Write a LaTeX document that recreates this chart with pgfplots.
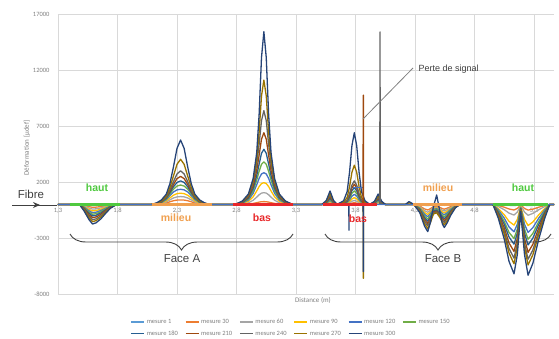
\documentclass[border=0pt]{standalone}
\usepackage{pgfplots}
\pgfplotsset{compat=1.18}
\usepackage{pgfplotstable}
\usepackage{fontspec}
\setmainfont{Liberation Sans}
\newfontfamily\calfont{Carlito}
\usetikzlibrary{arrows.meta,decorations.pathreplacing}
\definecolor{c1}{HTML}{5B9BD5}
\definecolor{c30}{HTML}{ED7D31}
\definecolor{c60}{HTML}{A5A5A5}
\definecolor{c90}{HTML}{FFC000}
\definecolor{c120}{HTML}{4472C4}
\definecolor{c150}{HTML}{70AD47}
\definecolor{c180}{HTML}{255E91}
\definecolor{c210}{HTML}{9E480E}
\definecolor{c240}{HTML}{636363}
\definecolor{c270}{HTML}{997300}
\definecolor{c300}{HTML}{264478}
\definecolor{gridc}{HTML}{D9D9D9}
\definecolor{txtg}{HTML}{7F7F7F}
\definecolor{annot}{HTML}{404040}
\definecolor{hautg}{HTML}{4FC93F}
\definecolor{milo}{HTML}{F0A050}
\definecolor{basr}{HTML}{E8282A}
\definecolor{baseb}{HTML}{4472C4}
\newcommand{\lt}[1]{\textcolor{txtg}{#1}}

\pgfplotstableread{
x m1 m30 m60 m90 m120 m150 m180 m210 m240 m270 m300
1.30 0 0 0 0 0 0 0 0 0 0 0
1.48 0 0 0 0 0 0 0 0 0 0 0
1.52 -30 -90 -140 -200 -250 -300 -350 -400 -470 -520 -600
1.56 -70 -200 -320 -450 -570 -680 -790 -920 -1050 -1190 -1350
1.59 -90 -260 -420 -580 -740 -880 -1030 -1190 -1370 -1540 -1750
1.62 -85 -245 -395 -545 -695 -825 -970 -1120 -1290 -1450 -1645
1.66 -67 -192 -311 -429 -548 -651 -762 -881 -1014 -1140 -1295
1.70 -41 -120 -193 -267 -340 -405 -474 -547 -630 -708 -805
1.74 -18 -52 -84 -116 -148 -176 -206 -238 -274 -308 -350
1.78 -5 -13 -21 -29 -37 -44 -52 -60 -69 -77 -88
1.80 0 0 0 0 0 0 0 0 0 0 0
2.09 0 0 0 0 0 0 0 0 0 0 0
2.13 0 16 28 40 54 66 76 83 93 113 144
2.17 0 48 84 120 162 195 221 245 270 322 403
2.21 0 128 224 320 432 512 571 620 672 774 920
2.24 0 232 406 580 783 936 1054 1158 1272 1499 1840
2.27 0 328 574 820 1107 1356 1571 1780 2028 2531 3335
2.30 0 384 672 960 1296 1638 1959 2300 2718 3579 5003
2.33 0 400 700 1000 1350 1730 2100 2500 3000 4030 5750
2.36 0 384 672 960 1296 1638 1959 2300 2718 3579 5003
2.39 0 328 574 820 1107 1356 1571 1780 2028 2531 3335
2.42 0 232 406 580 783 936 1054 1158 1272 1499 1840
2.45 0 128 224 320 432 512 571 620 672 774 920
2.49 0 48 84 120 162 195 221 245 270 322 403
2.53 0 16 28 40 54 66 76 83 93 113 144
2.57 0 0 0 0 0 0 0 0 0 0 0
2.79 0 0 0 0 0 0 0 0 0 0 0
2.85 0 10 42 78 113 141 167 198 234 266 308
2.90 0 35 147 272 396 486 571 666 770 844 925
2.94 0 88 368 679 991 1216 1427 1664 1925 2109 2313
2.97 0 155 651 1203 1755 2174 2578 3046 3582 4040 4626
2.99 0 205 861 1591 2321 2945 3592 4384 5357 6438 8018
3.01 0 240 1008 1862 2717 3587 4561 5824 7483 9679 13107
3.03 0 250 1050 1940 2830 3800 4920 6400 8370 11100 15420
3.05 0 240 1008 1862 2717 3587 4561 5824 7483 9679 13107
3.07 0 205 861 1591 2321 2945 3592 4384 5357 6438 8018
3.09 0 155 651 1203 1755 2174 2578 3046 3582 4040 4626
3.12 0 88 368 679 991 1216 1427 1664 1925 2109 2313
3.16 0 35 147 272 396 486 571 666 770 844 925
3.21 0 10 42 78 113 141 167 198 234 266 308
3.27 0 0 0 0 0 0 0 0 0 0 0
3.52 0 0 0 0 0 0 0 0 0 0 0
3.555 0 18 45 75 105 135 165 210 255 300 360
3.586 0 60 150 250 350 450 550 700 850 1000 1200
3.615 0 18 45 75 105 135 165 210 255 300 360
3.645 0 0 0 0 0 0 0 0 0 0 0
3.70 0 8 18 30 45 60 75 90 105 175 320
3.73 0 27 63 108 162 216 270 324 378 630 1152
3.75 0 68 158 270 405 540 675 810 945 1575 2880
3.77 0 123 287 492 738 984 1230 1476 1722 2870 5248
3.79 0 150 350 600 900 1200 1500 1800 2100 3500 6400
3.81 0 123 287 492 738 984 1230 1476 1722 2870 5248
3.83 0 68 158 270 405 540 675 810 945 1575 2880
3.85 0 27 63 108 162 216 270 324 378 630 1152
3.88 0 8 18 30 45 60 75 90 105 175 320
3.92 0 0 0 0 0 0 0 0 0 0 0
3.96 0 15 36 60 84 108 132 165 195 234 279
3.99 0 50 120 200 280 360 440 550 650 780 930
4.02 0 15 36 60 84 108 132 165 195 234 279
4.05 0 0 0 0 0 0 0 0 0 0 0
4.22 0 0 0 0 0 0 0 0 0 0 0
4.25 0 0 0 0 0 0 0 0 0 150 250
4.29 0 0 0 0 0 0 0 0 0 0 0
4.34 -30 -150 -210 -270 -330 -390 -450 -510 -570 -645 -729
4.38 -80 -400 -560 -720 -880 -1040 -1200 -1360 -1520 -1720 -1944
4.407 -100 -500 -700 -900 -1100 -1300 -1500 -1700 -1900 -2150 -2430
4.43 -75 -375 -525 -675 -825 -975 -1125 -1275 -1425 -1613 -1600
4.455 -40 -200 -280 -360 -440 -520 -600 -680 -760 -860 -200
4.482 -35 -175 -245 -315 -385 -455 -525 -595 -665 -750 840
4.51 -55 -275 -385 -495 -605 -715 -825 -935 -1045 -1183 -700
4.53 -75 -375 -525 -675 -825 -975 -1125 -1275 -1425 -1613 -1750
4.546 -85 -425 -595 -765 -935 -1105 -1275 -1445 -1615 -1828 -2066
4.57 -68 -340 -476 -612 -748 -884 -1020 -1156 -1292 -1462 -1652
4.60 -40 -200 -280 -360 -440 -520 -600 -680 -760 -860 -972
4.64 -12 -60 -84 -108 -132 -156 -180 -204 -228 -258 -292
4.68 0 0 0 0 0 0 0 0 0 0 0
4.955 0 0 0 0 0 0 0 0 0 0 0
5.00 -20 -100 -190 -370 -490 -610 -710 -840 -960 -1060 -1240
5.05 -50 -250 -475 -925 -1225 -1525 -1775 -2100 -2400 -2650 -3100
5.09 -82 -410 -779 -1517 -2009 -2501 -2911 -3444 -3936 -4346 -5084
5.132 -100 -500 -950 -1850 -2450 -3050 -3550 -4200 -4800 -5300 -6200
5.16 -72 -360 -684 -1332 -1764 -2196 -2556 -3024 -3456 -3816 -4464
5.188 -10 -50 -95 -185 -245 -305 -355 -420 -480 -530 -620
5.22 -72 -360 -684 -1332 -1764 -2196 -2556 -3024 -3456 -3816 -4464
5.25 -102 -510 -969 -1887 -2499 -3111 -3621 -4284 -4896 -5406 -6324
5.29 -85 -425 -808 -1573 -2083 -2593 -3018 -3570 -4080 -4505 -5270
5.34 -50 -250 -475 -925 -1225 -1525 -1775 -2100 -2400 -2650 -3100
5.39 -20 -100 -190 -370 -490 -610 -710 -840 -960 -1060 -1240
5.432 0 0 0 0 0 0 0 0 0 0 0
5.468 0 0 0 0 0 0 0 0 0 0 0
}\data

\begin{document}
\begin{tikzpicture}
\path[use as bounding box] (0,0) rectangle (559pt,-339pt);
\begin{axis}[
  at={(58pt,-294pt)}, anchor=south west,
  scale only axis, width=496pt, height=280pt,
  xmin=1.3, xmax=5.468, ymin=-8000, ymax=17000,
  xtick={1.3,1.8,2.3,2.8,3.3,3.8,4.3,4.8,5.3},
  ytick={-8000,-3000,2000,7000,12000,17000},
  scaled y ticks=false, scaled x ticks=false,
  grid=major, major grid style={draw=gridc, line width=0.7pt},
  axis line style={draw=none}, tick style={draw=none}, major tick length=0pt,
  ticklabel style={font=\calfont\fontsize{6.5}{7}\selectfont, text=txtg},
  /pgf/number format/assume math mode=true,
  /pgf/number format/use comma,
  /pgf/number format/1000 sep={},
  xticklabel style={/pgf/number format/fixed, /pgf/number format/precision=1,
    /pgf/number format/fixed zerofill, yshift=89.6pt},
  yticklabel style={xshift=-5pt, /pgf/number format/1000 sep={}},
  every axis plot/.append style={line width=1.3pt, line join=round},
  legend style={at={(axis description cs:0.47,-0.121)}, anchor=center,
    draw=none, fill=none, font=\calfont\fontsize{6.5}{7}\selectfont,
    /tikz/every even column/.append style={column sep=5pt}, row sep=2pt},
  legend columns=6, legend cell align=left,
  legend image code/.code={\draw[line width=1.2pt, #1] (0pt,0pt) -- (13pt,0pt);},
]
\addplot[c1] table[x=x,y=m1]{\data}; \addlegendentry{\lt{mesure 1}}
\addplot[c30] table[x=x,y=m30]{\data}; \addlegendentry{\lt{mesure 30}}
\addplot[c60] table[x=x,y=m60]{\data}; \addlegendentry{\lt{mesure 60}}
\addplot[c90] table[x=x,y=m90]{\data}; \addlegendentry{\lt{mesure 90}}
\addplot[c120] table[x=x,y=m120]{\data}; \addlegendentry{\lt{mesure 120}}
\addplot[c150] table[x=x,y=m150]{\data}; \addlegendentry{\lt{mesure 150}}
\addplot[c180] table[x=x,y=m180]{\data}; \addlegendentry{\lt{mesure 180}}
\addplot[c210] table[x=x,y=m210]{\data}; \addlegendentry{\lt{mesure 210}}
\addplot[c240] table[x=x,y=m240]{\data}; \addlegendentry{\lt{mesure 240}}
\addplot[c270] table[x=x,y=m270]{\data}; \addlegendentry{\lt{mesure 270}}
\addplot[c300] table[x=x,y=m300]{\data}; \addlegendentry{\lt{mesure 300}}
% signal loss
\addplot[c120, forget plot] coordinates {(3.775,1500) (3.87,1500)};
\addplot[c210, forget plot] coordinates {(3.862,0) (3.866,9760) (3.866,0)};
\addplot[c270, forget plot] coordinates {(3.864,0) (3.866,-6600) (3.868,0)};
\addplot[c300, forget plot] coordinates {(3.864,0) (3.866,-6000) (3.868,0)};
\addplot[c300, forget plot] coordinates {(3.744,0) (3.745,-2300) (3.746,0)};
\addplot[c240, forget plot] coordinates {(4.004,0) (4.006,15400) (4.008,0)};
% baseline overlays
\addplot[baseb, line width=1.5pt, forget plot] coordinates {(1.3,0) (5.468,0)};
\addplot[hautg, line width=2.5pt, forget plot] coordinates {(1.40,0) (1.82,0)};
\addplot[milo, line width=2.5pt, forget plot] coordinates {(2.087,0) (2.592,0)};
\addplot[basr, line width=2.5pt, forget plot] coordinates {(2.773,0) (3.277,0)};
\addplot[basr, line width=2.5pt, forget plot] coordinates {(3.53,0) (3.978,0)};
\addplot[milo, line width=2.5pt, forget plot] coordinates {(4.286,0) (4.692,0)};
\addplot[hautg, line width=2.5pt, forget plot] coordinates {(4.958,0) (5.42,0)};
\end{axis}
\begin{scope}[x=1pt,y=-1pt]
\node[font=\fontsize{11.5}{13}\selectfont, text=annot] at (31,194) {Fibre};
\draw[annot, line width=1pt] (12,205) -- (57,205);
\draw[annot, line width=1pt, -{Stealth[length=7pt,width=6pt]}] (12,205) -- (40,205);
\node[font=\bfseries\fontsize{10.5}{12}\selectfont, text=hautg] at (97,188) {haut};
\node[font=\bfseries\fontsize{10.5}{12}\selectfont, text=milo] at (176,218) {milieu};
\node[font=\bfseries\fontsize{10.5}{12}\selectfont, text=basr] at (262,218) {bas};
\node[font=\bfseries\fontsize{10.5}{12}\selectfont, text=basr] at (358,219) {bas};
\node[font=\bfseries\fontsize{10.5}{12}\selectfont, text=milo] at (438,188) {milieu};
\node[font=\bfseries\fontsize{10.5}{12}\selectfont, text=hautg] at (523,188) {haut};
\draw[annot, line width=0.9pt, decorate, decoration={brace, amplitude=16pt}] (293,234) -- (70,234);
\draw[annot, line width=0.9pt, decorate, decoration={brace, amplitude=16pt}] (551,234) -- (325,234);
\node[font=\fontsize{11.5}{13}\selectfont, text=annot] at (182,259) {Face A};
\node[font=\fontsize{11.5}{13}\selectfont, text=annot] at (443,259) {Face B};
\draw[gray, line width=0.8pt] (363,119) -- (413,68);
\node[anchor=west, font=\fontsize{9}{10}\selectfont, text=annot] at (415,69) {Perte de signal};
\node[rotate=90, font=\calfont\fontsize{7}{8}\selectfont, text=txtg] at (27,148) {Déformation [µdef]};
\node[font=\calfont\fontsize{7}{8}\selectfont, text=txtg] at (313,300) {Distance (m)};
\end{scope}
\end{tikzpicture}
\end{document}
